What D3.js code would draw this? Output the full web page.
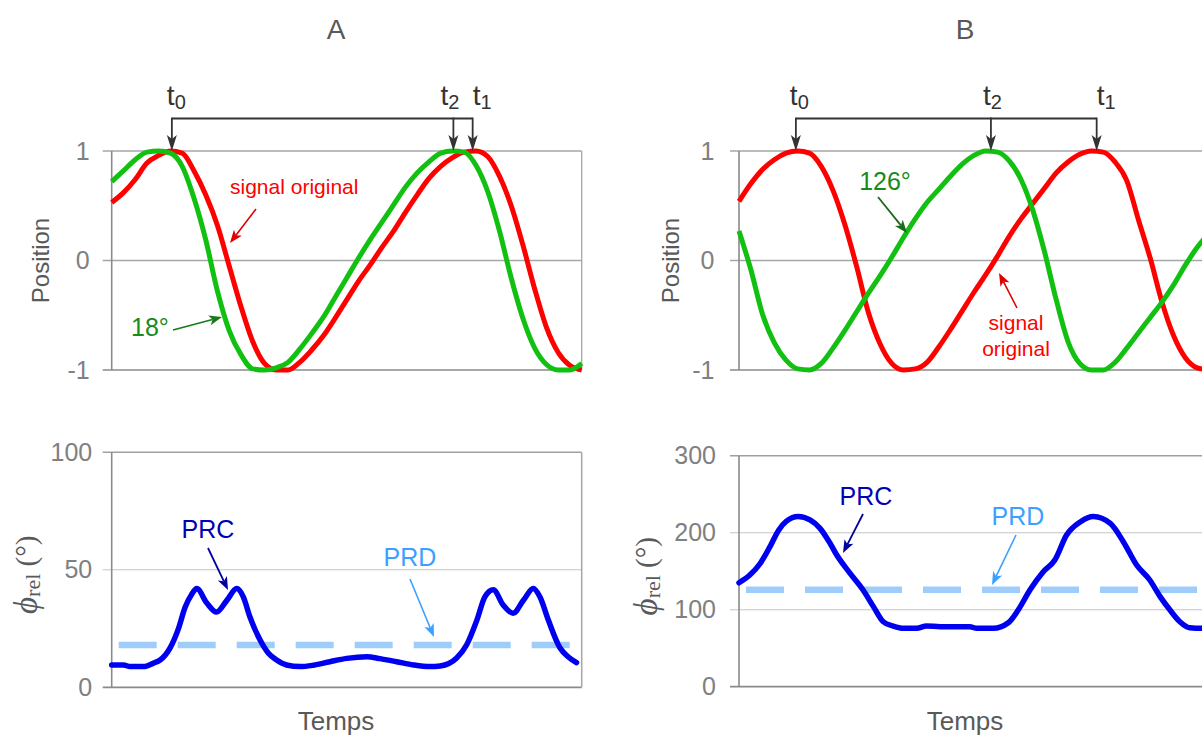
<!DOCTYPE html>
<html><head><meta charset="utf-8">
<script src="https://cdn.jsdelivr.net/npm/d3@7"></script>
<style>body{margin:0;background:#fff}svg{display:block}</style>
</head><body><svg id="c" width="1202" height="738"></svg>
<script>
// ---------------- DATA ----------------
const timeSig = [0,2.5,5,7.5,10,12.5,15,17.5,20,22.5,25,27.5,30,32.5,35,37.5,40,42.5,45,47.5,50,52.5,55,57.5,60,62.5,65,67.5,70,72.5,75,77.5,80,82.5,85,87.5,90,92.5,95,97.5,100];
const sigA_original = [0.53,0.62,0.74,0.89,0.96,1.0,0.98,0.82,0.60,0.32,-0.05,-0.42,-0.74,-0.94,-1.0,-1.0,-0.93,-0.82,-0.69,-0.53,-0.36,-0.19,-0.04,0.12,0.27,0.44,0.60,0.75,0.86,0.94,0.99,1.0,0.95,0.77,0.50,0.14,-0.26,-0.61,-0.84,-0.96,-1.0];
const sigA_shifted = [0.72,0.82,0.92,0.99,1.0,0.98,0.86,0.57,0.19,-0.28,-0.64,-0.86,-0.99,-1.0,-0.98,-0.93,-0.81,-0.67,-0.52,-0.34,-0.16,0.02,0.19,0.35,0.51,0.67,0.80,0.90,0.98,1.0,0.99,0.87,0.63,0.27,-0.16,-0.53,-0.80,-0.95,-1.0,-1.0,-0.94];
const sigB_original = [0.54,0.70,0.83,0.92,0.98,1.0,0.98,0.86,0.64,0.33,-0.05,-0.47,-0.76,-0.94,-1.0,-0.99,-0.93,-0.79,-0.63,-0.46,-0.29,-0.13,0.04,0.22,0.38,0.52,0.66,0.80,0.90,0.97,1.0,0.99,0.90,0.73,0.37,0.02,-0.38,-0.69,-0.89,-0.98,-1.0];
const sigB_shifted = [0.27,-0.08,-0.49,-0.75,-0.91,-0.99,-1.0,-0.94,-0.80,-0.64,-0.47,-0.30,-0.14,0.03,0.21,0.38,0.53,0.65,0.77,0.88,0.96,1.0,0.99,0.91,0.74,0.46,0.08,-0.36,-0.74,-0.94,-1.0,-1.0,-0.93,-0.80,-0.66,-0.52,-0.38,-0.22,-0.04,0.12,0.25];

const prcA_time = [0,2.5,3.9,6.7,8.9,10.3,12.4,14.2,15.6,17.0,18.1,20.2,22.3,24.5,26.6,28.0,29.4,31.6,33.3,35.1,37.2,40.1,42.9,46.4,50,54.3,57.1,60.6,64.2,67.7,69.9,73.4,75.5,77.7,79.4,81.2,83.3,85.4,87.6,89.7,91.1,92.9,95.4,97.1,98.9];
const prcA = [9.5,9.5,8.8,8.8,10.3,11.6,16.7,25,34,39.5,42,36,32,37,42,38.5,30,20,14.6,11.6,9.5,8.8,9.4,10.9,12.3,13.0,12.2,10.9,9.5,8.8,9.1,12.5,18,28.6,38.5,41.5,35,31.5,37,42,38.5,28.6,16.7,13,10.5];
const prcB_time = [0,2.3,4.5,6.6,8.4,10.1,12.6,15.1,17.2,19.4,20.8,23.6,26.4,28.6,30.7,32.8,35.0,37.8,39.9,42.8,49.1,50.6,54.1,57.3,59.4,61.9,64.7,67.2,69.7,72.6,75.4,79.0,81.8,84.6,87.4,89.6,91.7,93.8,95.9,98.5,100];
const prcB = [135,145,160,182,203,215,221,216.5,206,186,171,147.5,125.5,104,84.4,78.8,75.8,75.8,78.8,78,78,75.8,75.8,83,99.6,125.6,149,164.5,197,214,221,212,188,158,138.6,117,99.6,84.4,76.6,75.8,75.8];
const prdA = 18;
const prdB = 126;

const posTicks = [-1,0,1];
const phiTicksA = [0,50,100];
const phiTicksB = [0,100,200,300];
const markTimesA = [12.8,72.7,76.8];
const markTimesB = [12.1,53.6,76.1];
const markLabels = ["0","2","1"];
const titles = ["A","B"];

// ---------------- LAYOUT ----------------
const svg = d3.select("#c");
const FONT = "'Liberation Sans', Arial, sans-serif";
const SERIF = "'Liberation Serif', 'Times New Roman', serif";
const fmt = d => String(d);
const panels = [
  {left:111.7, right:581.7, center:336, phiMax:100, phiTicks:phiTicksA, bTop:452.3, bBot:687.3, labPadTop:22, labPadBot:19.5, phiOff:86, posOff:71,
   sigO:sigA_original, sigS:sigA_shifted, prcT:prcA_time, prc:prcA, prd:prdA, marks:markTimesA, rightBorder:true},
  {left:739, right:1209, center:965, phiMax:300, phiTicks:phiTicksB, bTop:455.7, bBot:686.7, labPadTop:24.5, labPadBot:23, phiOff:93, posOff:69,
   sigO:sigB_original, sigS:sigB_shifted, prcT:prcB_time, prc:prcB, prd:prdB, marks:markTimesB, rightBorder:false}
];

function arrow(g,x1,y1,x2,y2,color,sw,hl,hw){
  const a=Math.atan2(y2-y1,x2-x1);
  const bx=x2-hl*Math.cos(a), by=y2-hl*Math.sin(a);
  const nx=Math.sin(a)*hw/2, ny=-Math.cos(a)*hw/2;
  const mx=x2-hl*0.75*Math.cos(a), my=y2-hl*0.75*Math.sin(a);
  g.append("line").attr("x1",x1).attr("y1",y1).attr("x2",mx).attr("y2",my)
    .attr("stroke",color).attr("stroke-width",sw);
  g.append("path").attr("d",`M${x2},${y2}L${bx+nx},${by+ny}L${mx},${my}L${bx-nx},${by-ny}Z`).attr("fill",color);
}

panels.forEach((p,i)=>{
  const g = svg.append("g");
  const x = d3.scaleLinear().domain([0,100]).range([p.left,p.right]);
  const yT = d3.scaleLinear().domain([-1,1]).range([370,151]);
  const yB = d3.scaleLinear().domain([0,p.phiMax]).range([p.bBot,p.bTop]);

  // title
  g.append("text").attr("x",p.center).attr("y",39).attr("text-anchor","middle")
    .attr("font-family",FONT).attr("font-size",28).attr("fill","#595959").text(titles[i]);

  // ---------- top chart ----------
  posTicks.forEach(v=>{
    g.append("line").attr("x1",p.left-9).attr("x2",p.right).attr("y1",yT(v)).attr("y2",yT(v))
      .attr("stroke", v===-1 ? "#8a8a8a" : "#a6a6a6").attr("stroke-width", v===-1?1.6:1.3);
  });
  g.append("line").attr("x1",p.left).attr("x2",p.left).attr("y1",yT(1)).attr("y2",yT(-1))
    .attr("stroke","#8a8a8a").attr("stroke-width",1.6);
  if(p.rightBorder) g.append("line").attr("x1",p.right).attr("x2",p.right).attr("y1",yT(1)).attr("y2",yT(-1))
    .attr("stroke","#a6a6a6").attr("stroke-width",1.3);
  const axT = g.append("g").attr("transform",`translate(${p.left},0)`)
    .call(d3.axisLeft(yT).tickValues(posTicks).tickFormat(fmt).tickSize(0).tickPadding(p.labPadTop));
  axT.select(".domain").remove();
  axT.selectAll("text").attr("font-family",FONT).attr("font-size",25).attr("fill","#808080");

  g.append("text").attr("transform",`translate(${p.left-p.posOff},${yT(0)}) rotate(-90)`)
    .attr("text-anchor","middle").attr("dominant-baseline","central")
    .attr("font-family",FONT).attr("font-size",24).attr("fill","#595959").text("Position");

  const lineT = d3.line().x((d,k)=>x(timeSig[k])).y(d=>yT(d)).curve(d3.curveMonotoneX);
  g.append("path").attr("d",lineT(p.sigO)).attr("fill","none").attr("stroke","#ff0000")
    .attr("stroke-width",5).attr("stroke-linejoin","round");
  g.append("path").attr("d",lineT(p.sigS)).attr("fill","none").attr("stroke","#11c011")
    .attr("stroke-width",5).attr("stroke-linejoin","round");

  // markers t0,t2,t1
  const by = 118.5;
  const mx = p.marks.map(t=>x(t));
  g.append("line").attr("x1",d3.min(mx)).attr("x2",d3.max(mx)).attr("y1",by).attr("y2",by)
    .attr("stroke","#333").attr("stroke-width",1.8);
  mx.forEach(v=>arrow(g,v,by-0.9,v,yT(1),"#333",1.8,16,10));

  // ---------- bottom chart ----------
  p.phiTicks.forEach(v=>{
    const top = v===p.phiMax, bot = v===0;
    g.append("line").attr("x1",p.left-9).attr("x2",p.right).attr("y1",yB(v)).attr("y2",yB(v))
      .attr("stroke", bot ? "#8a8a8a" : (top ? "#a0a0a0" : "#c4c4c4"))
      .attr("stroke-width", bot?1.8:(top?1.5:1.1));
  });
  g.append("line").attr("x1",p.left).attr("x2",p.left).attr("y1",yB(p.phiMax)).attr("y2",yB(0))
    .attr("stroke","#8a8a8a").attr("stroke-width",1.6);
  if(p.rightBorder) g.append("line").attr("x1",p.right).attr("x2",p.right).attr("y1",yB(p.phiMax)).attr("y2",yB(0))
    .attr("stroke","#a6a6a6").attr("stroke-width",1.5);
  const axB = g.append("g").attr("transform",`translate(${p.left},0)`)
    .call(d3.axisLeft(yB).tickValues(p.phiTicks).tickFormat(fmt).tickSize(0).tickPadding(p.labPadBot));
  axB.select(".domain").remove();
  axB.selectAll("text").attr("font-family",FONT).attr("font-size",25).attr("fill","#808080");

  const phiLab = g.append("text").attr("transform",`translate(${p.left-p.phiOff},${(p.bTop+p.bBot)/2+5}) rotate(-90)`)
    .attr("text-anchor","middle").attr("dominant-baseline","central")
    .attr("font-family",SERIF).attr("fill","#595959");
  phiLab.append("tspan").attr("font-style","italic").attr("font-size",33).text("ϕ");
  phiLab.append("tspan").attr("font-size",22).attr("dy",6).text("rel");
  phiLab.append("tspan").attr("font-size",29).attr("dy",-6).text(" (°)");

  g.append("text").attr("x",p.center).attr("y",730).attr("text-anchor","middle")
    .attr("font-family",FONT).attr("font-size",26).attr("fill","#595959").text("Temps");

  // PRD dashed
  g.append("line").attr("x1",p.left+7).attr("x2",p.right).attr("y1",yB(p.prd)).attr("y2",yB(p.prd))
    .attr("stroke","#9fcdfb").attr("stroke-width",6.5).attr("stroke-dasharray","38,21");
  // PRC
  const lineB = d3.line().x((d,k)=>x(p.prcT[k])).y(d=>yB(d)).curve(d3.curveMonotoneX);
  g.append("path").attr("d",lineB(p.prc)).attr("fill","none").attr("stroke","#0000f0")
    .attr("stroke-width",5.5).attr("stroke-linejoin","round").attr("stroke-linecap","round");
});

// marker labels (t with subscripts)
function tLabel(xs, y, sub){
  const t = svg.append("text").attr("x",xs).attr("y",y).attr("font-family",FONT).attr("fill","#333");
  t.append("tspan").attr("font-size",28).text("t");
  t.append("tspan").attr("font-size",20).attr("dy",4).text(sub);
}
{
  const xA = d3.scaleLinear().domain([0,100]).range([111.7,581.7]);
  const xB = d3.scaleLinear().domain([0,100]).range([739,1209]);
  const offA = [-5,-13,0], offB = [-6,-8,0];
  markTimesA.forEach((t,k)=>tLabel(xA(t)+offA[k],105,markLabels[k]));
  markTimesB.forEach((t,k)=>tLabel(xB(t)+offB[k],105,markLabels[k]));
}

// annotations
const ann = svg.append("g").attr("font-family",FONT);
ann.append("text").attr("x",230).attr("y",194).attr("font-size",21).attr("fill","#ff0000").text("signal original");
arrow(ann,256,209,230,243,"#e00000",1.6,13,10);
ann.append("text").attr("x",131).attr("y",336).attr("font-size",25).attr("fill","#1a8a1a").text("18°");
arrow(ann,173,330,222,317,"#1a7a1a",1.8,13,10);

ann.append("text").attr("x",885).attr("y",190).attr("font-size",25).attr("fill","#1a8a1a").attr("text-anchor","middle").text("126°");
arrow(ann,878,197,907,233,"#1a6a1a",1.8,13,10);
ann.append("text").attr("x",1016).attr("y",330).attr("font-size",21).attr("fill","#ff0000").attr("text-anchor","middle").text("signal");
ann.append("text").attr("x",1016).attr("y",356).attr("font-size",21).attr("fill","#ff0000").attr("text-anchor","middle").text("original");
arrow(ann,1017,308,999,273,"#e00000",1.6,13,10);

ann.append("text").attr("x",208).attr("y",538).attr("font-size",25).attr("fill","#0000b4").attr("text-anchor","middle").text("PRC");
arrow(ann,208,548,228,590,"#0000a0",1.8,13,10);
ann.append("text").attr("x",410).attr("y",566).attr("font-size",25).attr("fill","#3ba0ff").attr("text-anchor","middle").text("PRD");
arrow(ann,410,579,434,637,"#3ba0ff",1.6,13,10);

ann.append("text").attr("x",866).attr("y",505).attr("font-size",25).attr("fill","#0000b4").attr("text-anchor","middle").text("PRC");
arrow(ann,863,514,843,553,"#0000a0",1.8,13,10);
ann.append("text").attr("x",1018).attr("y",525).attr("font-size",25).attr("fill","#3ba0ff").attr("text-anchor","middle").text("PRD");
arrow(ann,1016,535,992,585,"#3ba0ff",1.6,13,10);
</script></body></html>
